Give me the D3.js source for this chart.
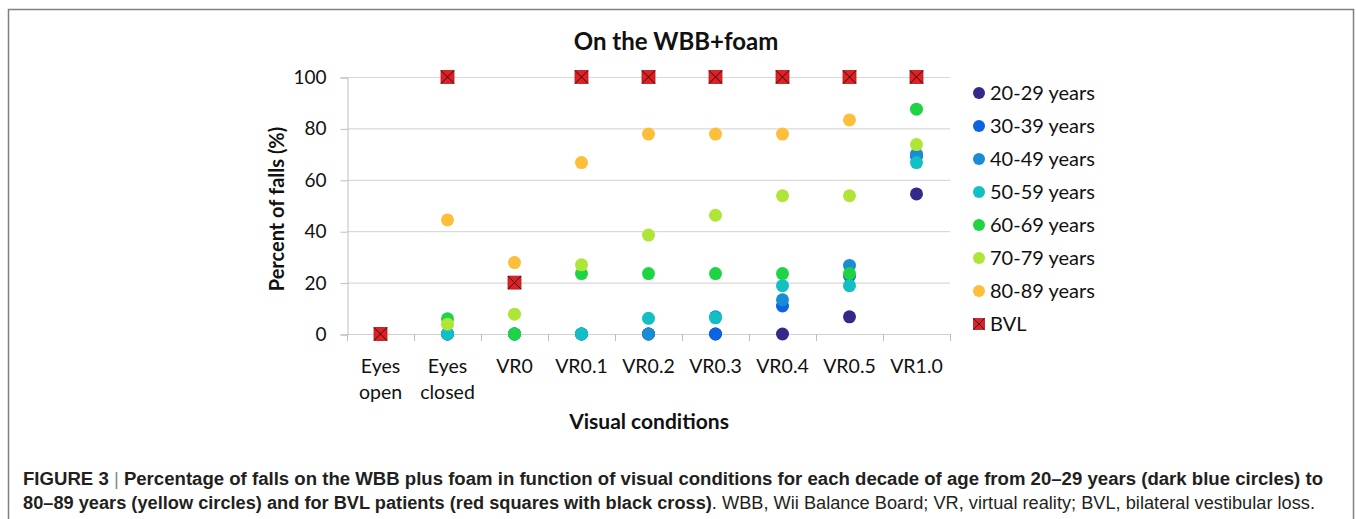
<!DOCTYPE html>
<html>
<head>
<meta charset="utf-8">
<script src="https://cdnjs.cloudflare.com/ajax/libs/d3/7.8.5/d3.min.js"></script>
<style>
  body { margin: 0; background: #fff; }
  svg { display: block; }
  .lab { font-family: Lato, "Open Sans", sans-serif; fill: #111; }
  .cap { font-family: "Liberation Sans Narrow", "Liberation Sans", Arial, sans-serif; fill: #231f20; }
</style>
</head>
<body>
<div id="viz"></div>
<script>
// visual conditions on the x axis
const categories = ["Eyes open", "Eyes closed", "VR0", "VR0.1", "VR0.2", "VR0.3", "VR0.4", "VR0.5", "VR1.0"];
const categoryLines = [["Eyes", "open"], ["Eyes", "closed"], ["VR0"], ["VR0.1"], ["VR0.2"], ["VR0.3"], ["VR0.4"], ["VR0.5"], ["VR1.0"]];
const yTicks = [0, 20, 40, 60, 80, 100];

// percent of falls, one value per condition
const age20 = [0, 0, 0, 0, 0, 0, 0, 6.7, 54.5];
const age30 = [0, 0, 0, 0, 0, 0, 10.9, 22.6, 69.2];
const age40 = [0, 0, 0, 0, 0, 6.7, 13.3, 26.7, 70];
const age50 = [0, 0, 0, 0, 6.1, 6.3, 18.8, 18.8, 66.7];
const age60 = [0, 5.9, 0, 23.5, 23.5, 23.5, 23.5, 23.5, 87.5];
const age70 = [0, 3.8, 7.7, 26.9, 38.5, 46.2, 53.8, 53.8, 73.7];
const age80 = [0, 44.4, 27.8, 66.7, 77.8, 77.8, 77.8, 83.3, 100];
const bvl = [0, 100, 20, 100, 100, 100, 100, 100, 100];

const seriesNames = ["20-29 years", "30-39 years", "40-49 years", "50-59 years", "60-69 years", "70-79 years", "80-89 years"];
const seriesColors = ["#33298a", "#0b64e3", "#1a8bd5", "#12bfc3", "#1fd444", "#afe536", "#fdbe3a"];
const ageSeries = [age20, age30, age40, age50, age60, age70, age80];

const W = 1356, H = 519;
const svg = d3.select("#viz").append("svg").attr("width", W).attr("height", H);

// figure frame
svg.append("rect")
    .attr("x", 8.5).attr("y", 9.5).attr("width", 1345).attr("height", 540)
    .attr("fill", "none").attr("stroke", "#808080").attr("stroke-width", 1.5);

const x = d3.scaleBand().domain(categories).range([347, 950]).padding(0);
const y = d3.scaleLinear().domain([0, 100]).range([334, 77]);

// gridlines
svg.append("g").selectAll("line").data(yTicks.filter(d => d > 0)).join("line")
    .attr("x1", 347).attr("x2", 950)
    .attr("y1", d => y(d) + 0.5).attr("y2", d => y(d) + 0.5)
    .attr("stroke", "#d9d9d9").attr("stroke-width", 1.2);

// y axis
const yAxis = svg.append("g").attr("transform", "translate(347.5,0.5)")
    .call(d3.axisLeft(y).tickValues(yTicks).tickSize(7).tickPadding(14));
yAxis.select(".domain").attr("stroke", "#bfbfbf");
yAxis.selectAll(".tick line").attr("stroke", "#bfbfbf");
yAxis.selectAll(".tick text").attr("class", "lab").style("font-size", "19px").attr("fill", "#111");

// x axis: ticks on category boundaries
svg.append("line").attr("x1", 347).attr("x2", 950).attr("y1", 334.5).attr("y2", 334.5)
    .attr("stroke", "#d0d0d0").attr("stroke-width", 1.2);
svg.append("g").selectAll("line").data(categories.concat(["end"])).join("line")
    .attr("x1", d => (d === "end" ? 950 : x(d)) + 0.5)
    .attr("x2", d => (d === "end" ? 950 : x(d)) + 0.5)
    .attr("y1", 334).attr("y2", 341)
    .attr("stroke", "#bfbfbf");

const xl = svg.append("g").selectAll("text").data(categories).join("text")
    .attr("class", "lab").style("font-size", "19.5px")
    .attr("text-anchor", "middle")
    .attr("x", d => x(d) + x.bandwidth() / 2)
    .attr("y", 373);
xl.selectAll("tspan").data((d, i) => categoryLines[i]).join("tspan")
    .attr("x", function () { return this.parentNode.getAttribute("x"); })
    .attr("dy", (d, i) => i === 0 ? 0 : 26)
    .text(d => d);

// titles
svg.append("text").attr("class", "lab").attr("x", 676).attr("y", 50)
    .attr("text-anchor", "middle").style("font-size", "24px").style("font-weight", "bold")
    .text("On the WBB+foam");
svg.append("text").attr("class", "lab").attr("x", 649).attr("y", 429)
    .attr("text-anchor", "middle").style("font-size", "21px").style("font-weight", "bold")
    .text("Visual conditions");
svg.append("text").attr("class", "lab")
    .attr("transform", "translate(284,209) rotate(-90)")
    .attr("text-anchor", "middle").style("font-size", "20px").style("font-weight", "bold")
    .text("Percent of falls (%)");

// age series points
ageSeries.forEach((vals, s) => {
    svg.append("g").selectAll("circle").data(vals).join("circle")
        .attr("cx", (d, i) => x(categories[i]) + x.bandwidth() / 2)
        .attr("cy", d => y(d))
        .attr("r", 6.5)
        .attr("fill", seriesColors[s]);
});

// BVL squares with cross
function bvlMark(g, size) {
    const h = size / 2;
    g.append("rect").attr("x", -h).attr("y", -h).attr("width", size).attr("height", size)
        .attr("fill", "#e31e24").attr("stroke", "#b01a1f").attr("stroke-width", 0.8);
    g.append("path").attr("d", `M${-h},${-h}L${h},${h}M${-h},${h}L${h},${-h}`)
        .attr("stroke", "#111").attr("stroke-width", 0.9);
}
svg.append("g").selectAll("g").data(bvl).join("g")
    .attr("transform", (d, i) => `translate(${x(categories[i]) + x.bandwidth() / 2},${y(d)})`)
    .each(function () { bvlMark(d3.select(this), 13); });

// legend
const lg = svg.append("g").attr("transform", "translate(979,93)");
seriesNames.forEach((name, i) => {
    lg.append("circle").attr("cx", 0).attr("cy", i * 33).attr("r", 6).attr("fill", seriesColors[i]);
    lg.append("text").attr("class", "lab").attr("x", 11).attr("y", i * 33 + 7)
        .style("font-size", "20px").text(name);
});
const lb = lg.append("g").attr("transform", `translate(0,${7 * 33})`);
bvlMark(lb, 11);
lg.append("text").attr("class", "lab").attr("x", 11).attr("y", 7 * 33 + 7)
    .style("font-size", "20px").text("BVL");

// caption
const c1 = svg.append("text").attr("class", "cap").attr("x", 23).attr("y", 485)
    .style("font-size", "17.5px").style("font-weight", "bold")
    .attr("textLength", 1300).attr("lengthAdjust", "spacingAndGlyphs");
c1.append("tspan").text("FIGURE 3 ");
c1.append("tspan").style("font-weight", "normal").attr("fill", "#888").text("|");
c1.append("tspan").text(" Percentage of falls on the WBB plus foam in function of visual conditions for each decade of age from 20\u201329 years (dark blue circles) to");

const c2 = svg.append("text").attr("class", "cap").attr("x", 23).attr("y", 509)
    .style("font-size", "17.5px")
    .attr("textLength", 1292).attr("lengthAdjust", "spacingAndGlyphs");
c2.append("tspan").style("font-weight", "bold")
    .text("80\u201389 years (yellow circles) and for BVL patients (red squares with black cross)");
c2.append("tspan").text(". WBB, Wii Balance Board; VR, virtual reality; BVL, bilateral vestibular loss.");
</script>
</body>
</html>
